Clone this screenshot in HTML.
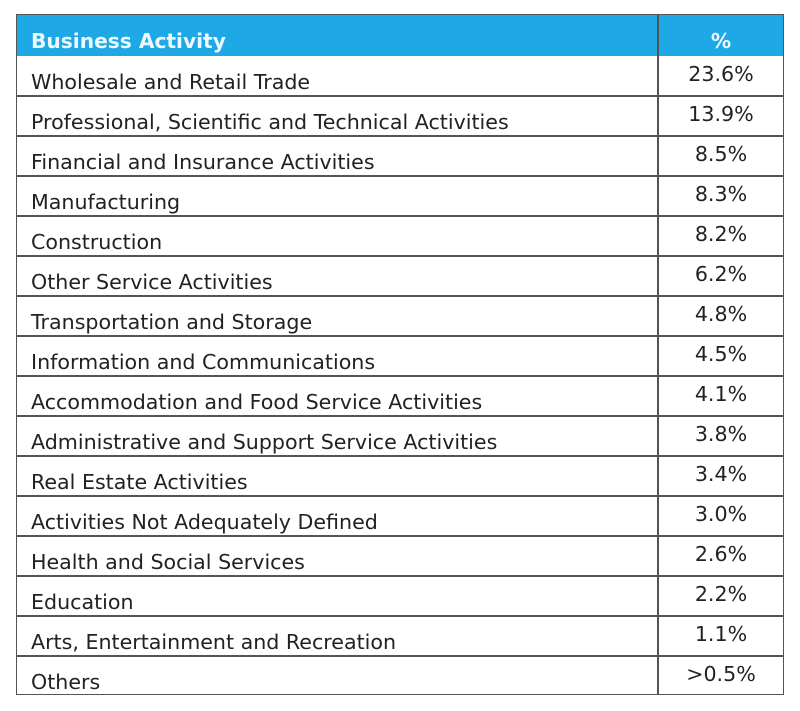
<!DOCTYPE html>
<html><head><style>
body{margin:0;width:800px;height:711px;background:#fff;position:relative;font-family:"DejaVu Sans","Liberation Sans",sans-serif;overflow:hidden}
.t{position:absolute;left:16px;top:14px;width:768px;height:681px;border:1.5px solid #555;box-sizing:border-box}
.h{position:absolute;left:0;top:0;width:100%;height:41px;background:#1ea8e6}
.v{position:absolute;left:640px;top:0;width:1.5px;height:100%;background:#555}
.r{position:absolute;left:0;width:100%;height:1.5px;background:#555}
.l{position:absolute;left:14px;font-size:20.6px;color:#222;white-space:nowrap}
.p{position:absolute;left:640px;width:128px;text-align:center;font-size:20.6px;color:#222}
.hl{color:#eef8ff;font-weight:bold;font-size:20.2px}
</style></head><body>
<div class="t">
<div class="h"></div>
<div class="v"></div>
<div class="l hl" style="top:14px">Business Activity</div>
<div class="p hl" style="top:14px">%</div>
<div id="rows"></div>
</div>
<script>
var d=[["Wholesale and Retail Trade","23.6%"],["Professional, Scientific and Technical Activities","13.9%"],["Financial and Insurance Activities","8.5%"],["Manufacturing","8.3%"],["Construction","8.2%"],["Other Service Activities","6.2%"],["Transportation and Storage","4.8%"],["Information and Communications","4.5%"],["Accommodation and Food Service Activities","4.1%"],["Administrative and Support Service Activities","3.8%"],["Real Estate Activities","3.4%"],["Activities Not Adequately Defined","3.0%"],["Health and Social Services","2.6%"],["Education","2.2%"],["Arts, Entertainment and Recreation","1.1%"],["Others",">0.5%"]];
var h="";for(var i=0;i<d.length;i++){var y=41+i*40;
if(i>0)h+='<div class="r" style="top:'+(y-1)+'px"></div>';
h+='<div class="l" style="top:'+(y+14)+'px">'+d[i][0]+'</div><div class="p" style="top:'+(y+6)+'px">'+d[i][1].replace('>','&gt;')+'</div>';}
document.getElementById('rows').outerHTML=h;
</script>
</body></html>
